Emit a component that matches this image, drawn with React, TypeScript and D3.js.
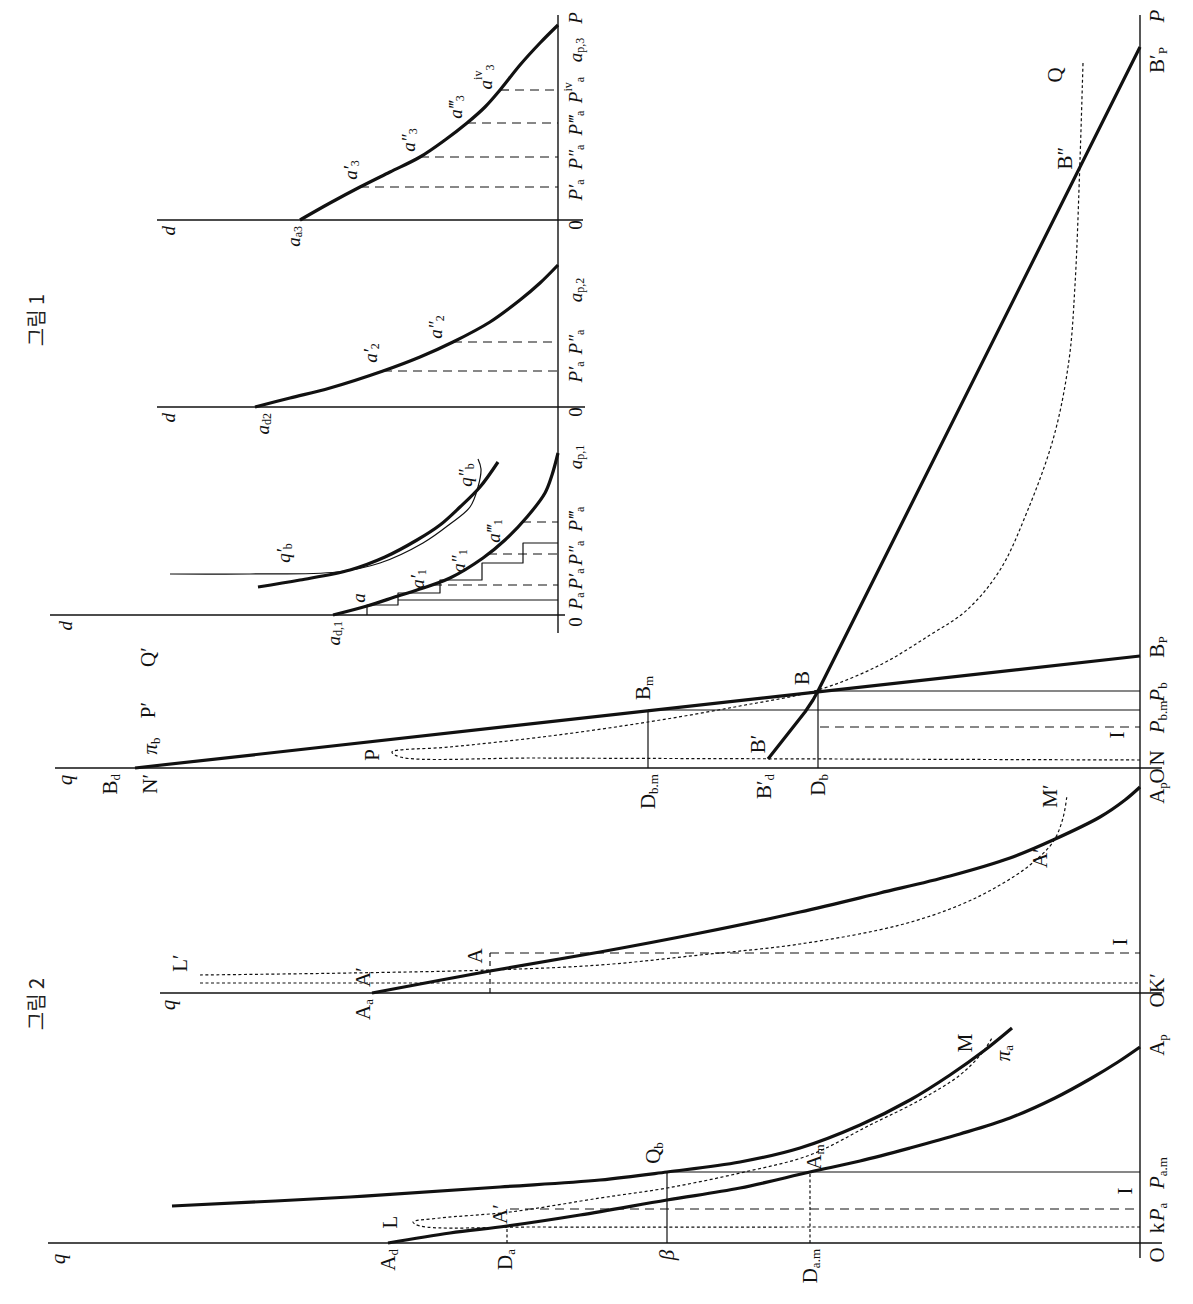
import * as d3 from 'd3';

// The whole figure is printed turned a quarter turn, so it is drawn in a
// landscape frame (P to the right, q upwards) and rotated into the page.
const PAGE_W = 1193;
const PAGE_H = 1304;

type Pt = [number, number]; // [q, P] measured from a panel's origin

// ---------- 그림 1 : three small d / P panels ----------
const fig1Base = 558;

const a1Curve: Pt[] = [[225, 0], [191, 9], [160, 19], [141, 25], [108, 37], [75, 57], [53, 75], [31, 98], [13, 122], [6, 140], [0, 162]];
const qb1Curve: Pt[] = [[300, 28], [258, 35], [208, 45], [173, 58], [141, 75], [118, 90], [98, 108], [78, 128], [60, 153]];
const qb2Curve: Pt[] = [[388, 41], [308, 41], [221, 43], [178, 52], [135, 72], [108, 91], [88, 108], [80, 128], [77, 146], [80, 156]];
const stair1: Pt[] = [[191, 0], [191, 10], [160, 10], [160, 22], [118, 22], [118, 35], [76, 35], [76, 52], [35, 52], [35, 72], [0, 72]];
const drops1: Pt[] = [[125, 30], [70, 61], [36, 93]];

const a2Curve: Pt[] = [[303, 0], [268, 9], [228, 19], [175, 36], [138, 50], [105, 65], [68, 85], [38, 107], [18, 124], [0, 142]];
const drops2: Pt[] = [[175, 36], [105, 65]];

const a3Curve: Pt[] = [[258, 0], [228, 17], [198, 33], [168, 48], [138, 63], [113, 80], [91, 97], [73, 113], [58, 130], [38, 155], [18, 177], [0, 195]];
const drops3: Pt[] = [[198, 33], [138, 63], [91, 97], [58, 130]];

// ---------- 그림 2 : the big diagram ----------
const fig2Base = 1140;

// section A (origin O at the bottom)
const adCurve: Pt[] = [[752, 0], [690, 10], [633, 17], [560, 28], [473, 43], [400, 55], [330, 71], [280, 82], [230, 95], [180, 109], [130, 125], [85, 145], [50, 164], [22, 181], [0, 196]];
const qbCurve: Pt[] = [[968, 37], [790, 46], [640, 56], [540, 63], [473, 71], [400, 81], [340, 95], [280, 118], [230, 143], [190, 168], [155, 193], [128, 215]];
const lTongue: Pt[] = [[0, 16], [300, 16], [600, 16], [720, 17], [727, 21], [700, 25], [630, 31], [540, 45], [473, 55], [400, 70], [330, 88], [270, 118], [220, 143], [180, 168], [158, 190], [148, 205]];

// section A' (origin O in the middle)
const aaCurve: Pt[] = [[768, 0], [650, 22], [540, 41], [440, 60], [340, 81], [260, 100], [190, 117], [130, 135], [87, 153], [40, 176], [15, 193], [0, 206]];
const mDotted: Pt[] = [[940, 18], [790, 20], [650, 23], [540, 28], [440, 38], [340, 49], [240, 68], [180, 88], [140, 108], [110, 128], [87, 151], [77, 175], [73, 198]];

// section B (origin O, N at the top)
const piBLine: Pt[] = [[1005, 0], [0, 112]];
const bCurve: Pt[] = [[372, 9], [335, 56], [327, 68], [322, 77], [0, 721]];
const qTongue: Pt[] = [[0, 8], [300, 9], [600, 10], [740, 11], [748, 16], [690, 21], [590, 32], [492, 46], [400, 62], [322, 78], [260, 103], [210, 133], [173, 158], [140, 198], [113, 256], [86, 332], [71, 408], [65, 483], [60, 608], [57, 705]];

const THICK = 3.2;
const THIN = 1.2;
const AXIS = 1.4;
const LONG = '9,6';
const DOT = '3,2.5';
const SHORT = '5,4';

type Seg = { pts: Pt[]; w: number; dash?: string; smooth?: boolean };
type Lab = { t: string; q: number; p: number; sub?: string; sup?: string; it?: boolean; anchor?: 'start' | 'middle' | 'end' };
type Panel = { origin: number; base: number; size: number; segs: Seg[]; labels: Lab[] };

const drop = (d: Pt, w: number, dash?: string): Seg => ({ pts: [d, [0, d[1]]], w, dash });
const axisLab = (t: string, q: number, sub?: string, it?: boolean): Lab => ({ t, q, p: -6, sub, it, anchor: 'end' });
const baseLab = (t: string, p: number, sub?: string, it?: boolean, sup?: string): Lab => ({ t, q: -17, p, sub, it, sup });

const panels: Panel[] = [
  {
    origin: 615, base: fig1Base, size: 19,
    segs: [
      { pts: [[508, 0], [-7, 0]], w: AXIS },
      { pts: [[0, -18], [0, 600]], w: AXIS },
      { pts: stair1, w: THIN },
      { pts: [[160, 15], [0, 15]], w: THIN },
      ...drops1.map((d) => drop(d, THIN, LONG)),
      { pts: qb2Curve, w: THIN, smooth: true },
      { pts: qb1Curve, w: THICK, smooth: true },
      { pts: a1Curve, w: THICK, smooth: true },
    ],
    labels: [
      axisLab('d', 493, undefined, true),
      axisLab('a', 225, 'd,1', true),
      { t: 'a', q: 200, p: 17, it: true },
      { t: 'a′', sub: '1', q: 141, p: 36, it: true },
      { t: 'a″', sub: '1', q: 100, p: 54, it: true },
      { t: 'a‴', sub: '1', q: 65, p: 84, it: true },
      { t: 'q′', sub: 'b', q: 275, p: 62, it: true },
      { t: 'q″', sub: 'b', q: 93, p: 140, it: true },
      baseLab('0', -7),
      baseLab('P', 14, 'a', true),
      baseLab('P′', 36, 'a', true),
      baseLab('P″', 62, 'a', true),
      baseLab('P‴', 96, 'a', true),
      baseLab('a', 158, 'p,1', true),
    ],
  },
  {
    origin: 407, base: fig1Base, size: 19,
    segs: [
      { pts: [[401, 0], [-27, 0]], w: AXIS },
      ...drops2.map((d) => drop(d, THIN, LONG)),
      { pts: a2Curve, w: THICK, smooth: true },
    ],
    labels: [
      axisLab('d', 390, undefined, true),
      axisLab('a', 296, 'd2', true),
      { t: 'a′', sub: '2', q: 188, p: 54, it: true },
      { t: 'a″', sub: '2', q: 123, p: 80, it: true },
      baseLab('0', -5),
      baseLab('P′', 35, 'a', true),
      baseLab('P″', 65, 'a', true),
      baseLab('a', 117, 'p,2', true),
    ],
  },
  {
    origin: 220, base: fig1Base, size: 19,
    segs: [
      { pts: [[401, 0], [-25, 0]], w: AXIS },
      ...drops3.map((d) => drop(d, THIN, LONG)),
      { pts: a3Curve, w: THICK, smooth: true },
    ],
    labels: [
      axisLab('d', 390, undefined, true),
      axisLab('a', 265, 'a3', true),
      { t: 'a′', sub: '3', q: 208, p: 50, it: true },
      { t: 'a″', sub: '3', q: 150, p: 80, it: true },
      { t: 'a‴', sub: '3', q: 103, p: 113, it: true },
      { t: 'a', sup: 'iv', sub: '3', q: 73, p: 143, it: true },
      baseLab('0', -5),
      baseLab('P′', 30, 'a', true),
      baseLab('P″', 63, 'a', true),
      baseLab('P‴', 97, 'a', true),
      baseLab('P', 130, 'a', true, 'iv'),
      baseLab('a', 170, 'p,3', true),
      baseLab('P', 202, undefined, true),
    ],
  },
  {
    origin: 1243, base: fig2Base, size: 21,
    segs: [
      { pts: [[1092, 0], [-22, 0]], w: AXIS },
      { pts: [[0, -15], [0, 1228]], w: AXIS },
      { pts: [[473, 0], [473, 71]], w: THIN },
      { pts: [[473, 71], [0, 71]], w: THIN },
      { pts: [[330, 0], [330, 71]], w: THIN, dash: DOT },
      { pts: [[633, 0], [633, 17]], w: THIN, dash: DOT },
      { pts: [[630, 34], [0, 34]], w: THIN, dash: LONG },
      { pts: lTongue, w: THIN, dash: DOT, smooth: true },
      { pts: adCurve, w: THICK, smooth: true },
      { pts: qbCurve, w: THICK, smooth: true },
    ],
    labels: [
      { t: 'q', q: 1082, p: -16, it: true },
      axisLab('A', 752, 'd'),
      axisLab('D', 635, 'a'),
      { t: 'β', q: 473, p: -12, it: true },
      axisLab('D', 330, 'a.m'),
      { t: 'L', q: 750, p: 21 },
      { t: 'A′', q: 640, p: 29 },
      { t: 'Q', sub: 'b', q: 487, p: 90 },
      { t: 'A', sub: 'm', q: 326, p: 86 },
      { t: 'M', q: 175, p: 200 },
      { t: 'π', sub: 'a', q: 137, p: 190, it: true },
      { t: 'I', q: 15, p: 52 },
      baseLab('O', -12),
      baseLab('k', 15),
      baseLab('P', 31, 'a', true),
      baseLab('P', 70, 'a.m', true),
      baseLab('A', 198, 'p'),
    ],
  },
  {
    origin: 993, base: fig2Base, size: 21,
    segs: [
      { pts: [[980, 0], [-22, 0]], w: AXIS },
      { pts: [[940, 10], [0, 10]], w: THIN, dash: DOT },
      { pts: [[650, 0], [650, 40]], w: THIN, dash: SHORT },
      { pts: [[650, 40], [0, 40]], w: THIN, dash: LONG },
      { pts: mDotted, w: THIN, dash: DOT, smooth: true },
      { pts: aaCurve, w: THICK, smooth: true },
    ],
    labels: [
      { t: 'q', q: 972, p: -12, it: true },
      { t: 'L′', q: 960, p: 30 },
      axisLab('A', 777, 'a'),
      { t: 'A′', q: 777, p: 16 },
      { t: 'A', q: 665, p: 37 },
      { t: 'I', q: 20, p: 51 },
      { t: 'A′', q: 100, p: 135 },
      { t: 'M′', q: 90, p: 197 },
      baseLab('O', -7),
      baseLab('K′', 10),
      baseLab('A', 200, 'p'),
    ],
  },
  {
    origin: 768, base: fig2Base, size: 21,
    segs: [
      { pts: [[1085, 0], [-22, 0]], w: AXIS },
      { pts: [[322, 0], [322, 77]], w: THIN },
      { pts: [[322, 77], [0, 77]], w: THIN },
      { pts: [[492, 0], [492, 58]], w: THIN },
      { pts: [[492, 58], [0, 58]], w: THIN },
      { pts: [[320, 41], [0, 41]], w: THIN, dash: LONG },
      { pts: qTongue, w: THIN, dash: DOT, smooth: true },
      { pts: piBLine, w: THICK },
      { pts: bCurve, w: THICK },
    ],
    labels: [
      { t: 'q', q: 1075, p: -12, it: true },
      axisLab('B', 1030, 'd'),
      axisLab('N′', 990),
      { t: 'π', sub: 'b', q: 990, p: 22, it: true },
      { t: 'P′', q: 992, p: 58 },
      { t: 'Q′', q: 992, p: 111 },
      { t: 'P', q: 768, p: 13 },
      { t: 'B', sub: 'm', q: 497, p: 80 },
      axisLab('D', 492, 'b.m'),
      { t: 'B′', q: 382, p: 24 },
      axisLab('B′', 376, 'd'),
      axisLab('D', 322, 'b'),
      { t: 'B', q: 338, p: 90 },
      { t: 'I', q: 23, p: 33 },
      { t: 'B″', q: 75, p: 610 },
      { t: 'Q', q: 85, p: 693 },
      baseLab('N', 10),
      baseLab('O', -8),
      baseLab('P', 51, 'b.m', true),
      baseLab('P', 76, 'b', true),
      baseLab('B', 121, 'P'),
      baseLab('B′', 708, 'P'),
      baseLab('P', 752, undefined, true),
    ],
  },
];

// figure titles, landscape position given as [x along page height, y along page width]
const titles: { t: string; at: [number, number] }[] = [
  { t: '그림 1', at: [984, 35] },
  { t: '그림 2', at: [300, 35] },
];

const FONT = "'Liberation Serif', 'DejaVu Serif', serif";

function PanelView({ panel }: { panel: Panel }) {
  // P runs along the page height (rightwards in the landscape frame), q runs leftwards on the page
  const x = d3.scaleLinear().domain([0, 100]).range([PAGE_H - panel.origin, PAGE_H - panel.origin + 100]);
  const y = d3.scaleLinear().domain([0, 100]).range([panel.base, panel.base - 100]);
  const straight = d3.line<Pt>().x((d) => x(d[1])).y((d) => y(d[0]));
  const smooth = d3.line<Pt>().x((d) => x(d[1])).y((d) => y(d[0])).curve(d3.curveCatmullRom.alpha(0.5));
  const subSize = Math.round(panel.size * 0.62);
  return (
    <g>
      {panel.segs.map((s, i) => (
        <path
          key={i}
          d={(s.smooth ? smooth : straight)(s.pts) || ''}
          fill="none"
          stroke="#111"
          strokeWidth={s.w}
          strokeDasharray={s.dash}
          strokeLinejoin="round"
        />
      ))}
      {panel.labels.map((l, i) => (
        <text
          key={'l' + i}
          x={x(l.p)}
          y={y(l.q)}
          textAnchor={l.anchor || 'middle'}
          dominantBaseline="central"
          fontFamily={FONT}
          fontSize={panel.size}
          fontStyle={l.it ? 'italic' : 'normal'}
          fill="#111"
        >
          {l.t}
          {l.sup && (
            <tspan fontSize={subSize} dy={-7} fontStyle="normal">{l.sup}</tspan>
          )}
          {l.sub && (
            <tspan fontSize={subSize} dy={l.sup ? 12 : 5} fontStyle="normal">{l.sub}</tspan>
          )}
        </text>
      ))}
    </g>
  );
}

export default function App() {
  return (
    <svg
      width={PAGE_W}
      height={PAGE_H}
      viewBox={`0 0 ${PAGE_W} ${PAGE_H}`}
      style={{ position: 'absolute', left: 0, top: 0, background: '#fff' }}
    >
      <rect width={PAGE_W} height={PAGE_H} fill="#fff" />
      <g transform={`translate(0,${PAGE_H}) rotate(-90)`}>
        {panels.map((p, i) => (
          <PanelView key={i} panel={p} />
        ))}
        {titles.map((t) => (
          <text
            key={t.t}
            x={t.at[0]}
            y={t.at[1]}
            textAnchor="middle"
            dominantBaseline="central"
            fontFamily="'Noto Sans CJK KR', sans-serif"
            fontSize={20}
            fill="#222"
          >
            {t.t}
          </text>
        ))}
      </g>
    </svg>
  );
}
